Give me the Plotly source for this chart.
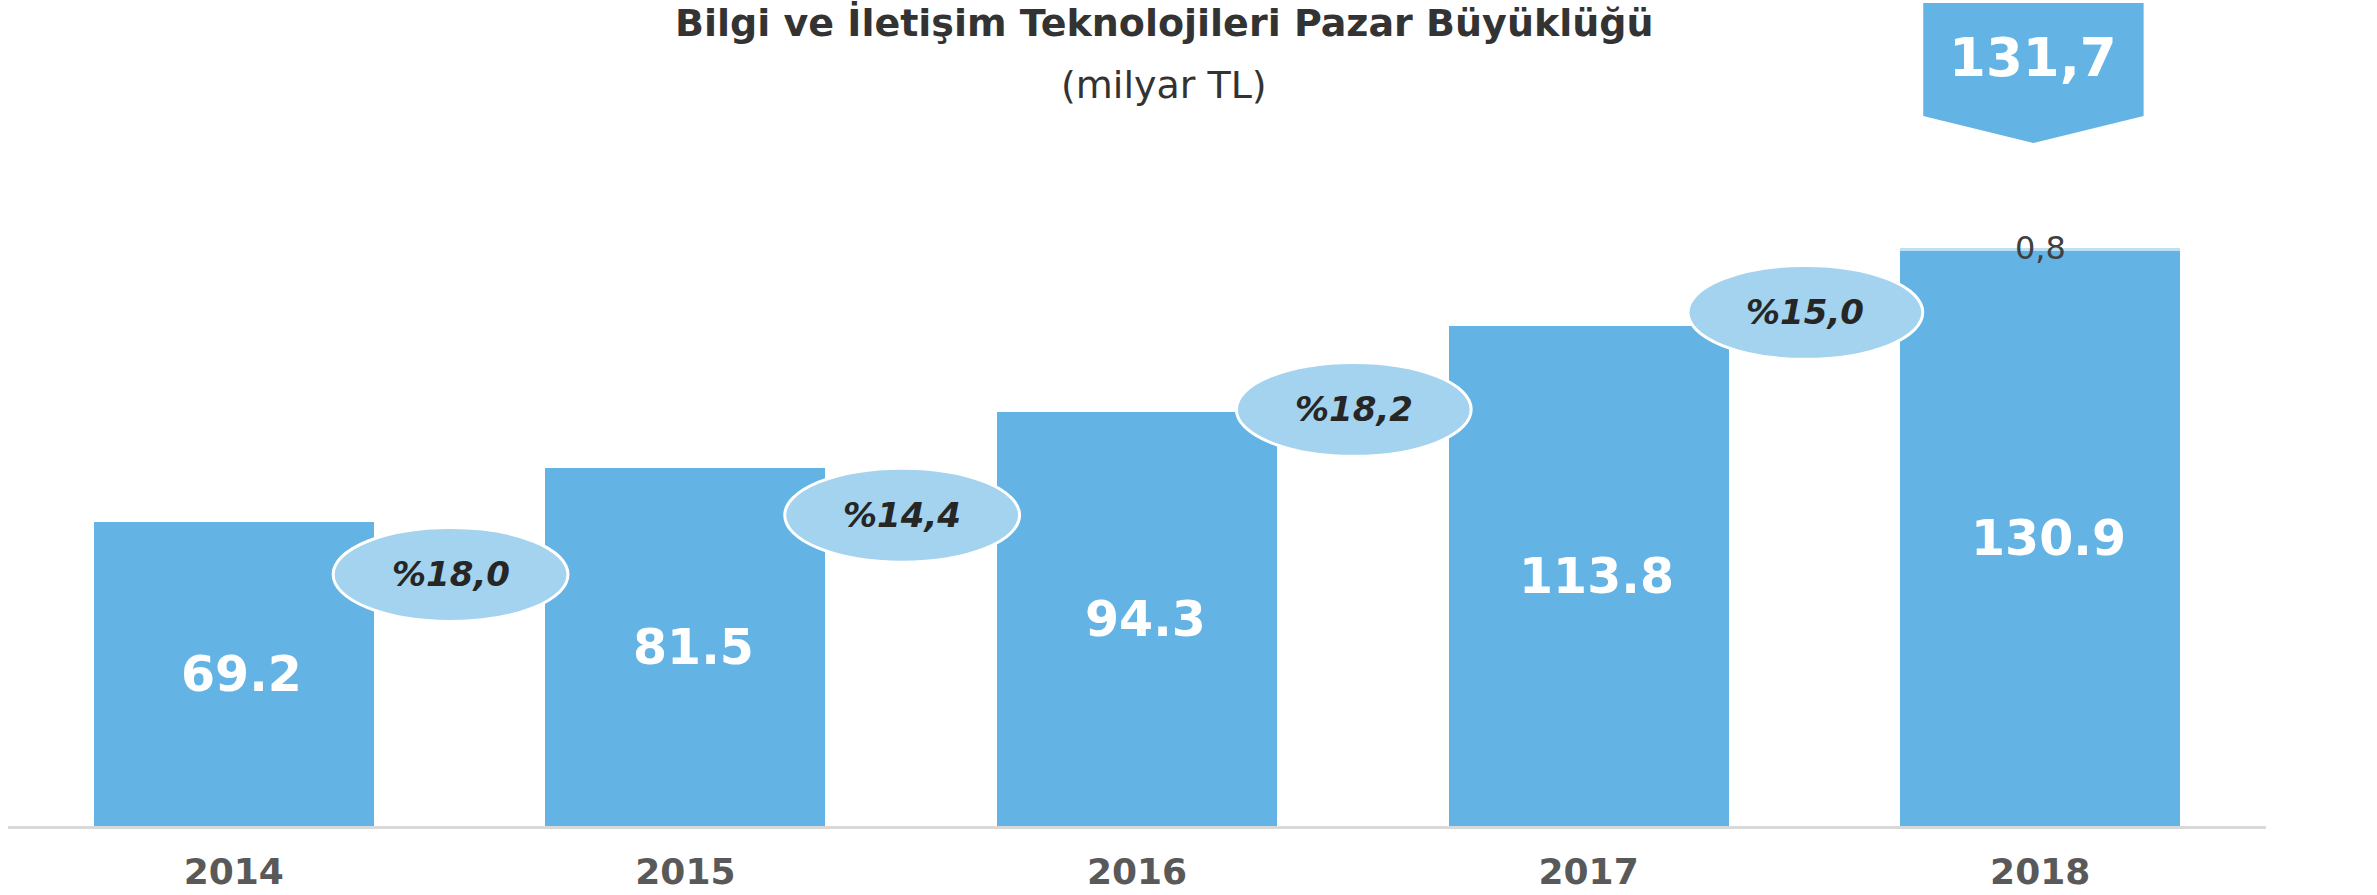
import plotly.graph_objects as go

# ---- data ----
years = [2014, 2015, 2016, 2017, 2018]
year_labels = ["2014", "2015", "2016", "2017", "2018"]
market_size = [69.2, 81.5, 94.3, 113.8, 130.9]
extra_2018 = [0.8]
growth_labels = ["%18,0", "%14,4", "%18,2", "%15,0"]

# ---- layout helpers (positions / styles) ----
W, H = 2377, 895
AXIS_PX = 826           # axis line row
PLOT_LEFT, PLOT_RIGHT = 8, 2266
PLOT_H = AXIS_PX
PLOT_W = PLOT_RIGHT - PLOT_LEFT
PX_PER_UNIT = 4.39
Y_MAX = PLOT_H / PX_PER_UNIT
bubble_y = [57.3, 70.8, 94.9, 117.0]  # vertical placement of the growth bubbles
BAR = "#63B4E4"
LIGHT = "#BEDFF4"
BUBBLE = "#A3D3EE"
FONT = "DejaVu Sans"


def py(pixel):
    """pixel row -> paper y"""
    return (AXIS_PX - pixel) / PLOT_H


def px(pixel):
    """pixel column -> paper x"""
    return (pixel - PLOT_LEFT) / PLOT_W


fig = go.Figure()

fig.add_trace(go.Bar(
    x=years, y=market_size,
    marker=dict(color=BAR, line=dict(width=0)),
    hoverinfo="skip", showlegend=False,
))
fig.add_trace(go.Bar(
    x=[years[-1]], y=extra_2018,
    marker=dict(color=LIGHT, line=dict(width=0)),
    hoverinfo="skip", showlegend=False,
))

shapes = []
annotations = []

# value labels inside the bars (slightly right of centre, as in the source)
for yr, v in zip(years, market_size):
    annotations.append(dict(x=yr, y=v / 2, xref="x", yref="y", text=f"<b>{v:.1f}</b>",
                            showarrow=False, yanchor="middle", xshift=8,
                            font=dict(family=FONT, size=49, color="white")))

# growth bubbles
bw, bh = 0.26, 10.7
for i, (lab, yc) in enumerate(zip(growth_labels, bubble_y)):
    xc = years[i] + 0.48
    shapes.append(dict(type="circle", xref="x", yref="y",
                       x0=xc - bw, x1=xc + bw, y0=yc - bh, y1=yc + bh,
                       fillcolor=BUBBLE, line=dict(color="white", width=3), layer="above"))
    annotations.append(dict(x=xc, y=yc, xref="x", yref="y", text=f"<b><i>{lab}</i></b>",
                            showarrow=False, font=dict(family=FONT, size=34, color="#262626")))

# 0,8 label on the small segment
total = market_size[-1] + extra_2018[0]
annotations.append(dict(x=years[-1], y=total, xref="x", yref="y",
                        text=f"{extra_2018[0]:.1f}".replace(".", ","),
                        showarrow=False, yanchor="middle",
                        font=dict(family=FONT, size=32, color="#404040")))

# total arrow box
xc = years[-1] - 0.015
hw = 0.244
top, rect_bot, tip = py(3), py(116), py(143)
shapes.append(dict(type="path", xref="x", yref="paper",
                   path=f"M {xc-hw} {top} L {xc+hw} {top} L {xc+hw} {rect_bot} L {xc} {tip} L {xc-hw} {rect_bot} Z",
                   fillcolor=BAR, line=dict(width=0), layer="above"))
annotations.append(dict(x=xc, y=py(57), xref="x", yref="paper",
                        text="<b>" + f"{total:.1f}".replace(".", ",") + "</b>",
                        showarrow=False, yanchor="middle",
                        font=dict(family=FONT, size=53, color="white")))

# titles
annotations.append(dict(x=px(1164), y=py(23), xref="paper", yref="paper",
                        text="<b>Bilgi ve İletişim Teknolojileri Pazar Büyüklüğü</b>",
                        showarrow=False, yanchor="middle",
                        font=dict(family=FONT, size=38, color="#333333")))
annotations.append(dict(x=px(1164), y=py(85), xref="paper", yref="paper",
                        text="(milyar TL)", showarrow=False, yanchor="middle",
                        font=dict(family=FONT, size=38, color="#333333")))

fig.update_layout(
    width=W, height=H,
    margin=dict(l=PLOT_LEFT, r=W - PLOT_RIGHT, t=0, b=H - AXIS_PX, autoexpand=False),
    barmode="stack", bargap=0.38,
    plot_bgcolor="white", paper_bgcolor="white",
    shapes=shapes, annotations=annotations,
    xaxis=dict(range=[years[0] - 0.5, years[-1] + 0.5], tickvals=years, ticktext=year_labels,
               automargin=False,
               showgrid=False, zeroline=False, showline=True, linecolor="#D9D9D9", linewidth=3,
               ticks="outside", ticklen=12, tickcolor="rgba(0,0,0,0)",
               tickfont=dict(family=FONT, size=36, color="#595959", weight="bold")),
    yaxis=dict(range=[0, Y_MAX], visible=False, automargin=False,
               showgrid=False, zeroline=False),
)

post = (
    "document.documentElement.style.overflow='hidden';"
    "document.body.style.margin='0';document.body.style.overflow='hidden';"
    "var gd=document.getElementsByClassName('plotly-graph-div')[0];"
    "gd.style.position='fixed';gd.style.top='0px';gd.style.left='0px';"
)
fig.write_html("out.html", config={"responsive": False, "displayModeBar": False},
               post_script=post)
